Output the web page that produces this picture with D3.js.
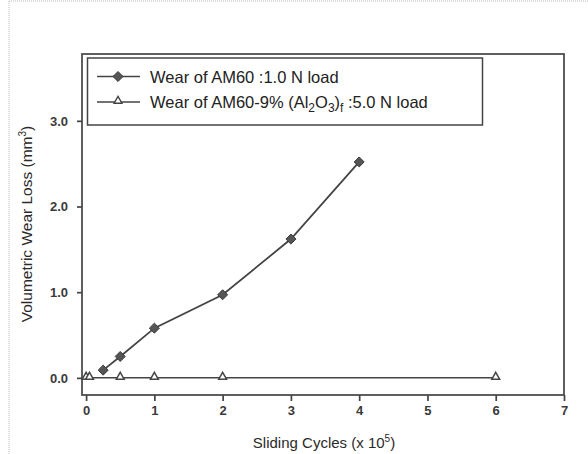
<!DOCTYPE html>
<html><head><meta charset="utf-8">
<script src="https://cdn.jsdelivr.net/npm/d3@7"></script>
<style>html,body{margin:0;padding:0;background:#fff}svg{display:block}</style>
</head><body><div id="chart"></div>
<script>
const cyclesAM60 = [0.25, 0.5, 1, 2, 3, 4];
const wearAM60 = [0.09, 0.25, 0.58, 0.97, 1.62, 2.52];
const cyclesComposite = [0, 0.05, 0.5, 1, 2, 6];
const wearComposite = [0, 0, 0, 0, 0, 0];
const xTicks = [0, 1, 2, 3, 4, 5, 6, 7];
const yTicks = [0, 1, 2, 3];
const seriesNames = ["Wear of AM60 :1.0 N load", "Wear of AM60-9% (Al2O3)f :5.0 N load"];

const W = 588, H = 454;
const svg = d3.select("#chart").append("svg").attr("width", W).attr("height", H);
const ink = "#444";
const font = "Arial, 'Liberation Sans', Helvetica, sans-serif";

// faint scan border
svg.append("line").attr("x1", 9).attr("x2", 9).attr("y1", 1).attr("y2", H)
  .attr("stroke", "#bbb").attr("stroke-dasharray", "1,1");
svg.append("line").attr("x1", 9).attr("x2", W).attr("y1", 1).attr("y2", 1)
  .attr("stroke", "#bbb").attr("stroke-dasharray", "1,1");

const L = 82, R = 564, T = 54, B = 395;
const x = d3.scaleLinear().domain([-0.06, 7]).range([L, R]);
const y = d3.scaleLinear().domain([-0.2, 3.78]).range([B, T]);

// frame
svg.append("rect").attr("x", L).attr("y", T).attr("width", R - L).attr("height", B - T)
  .attr("fill", "none").attr("stroke", ink).attr("stroke-width", 1.7);

// x axis
const xAxis = svg.append("g").attr("transform", `translate(0,${B})`)
  .call(d3.axisBottom(x).tickValues(xTicks).tickFormat(d3.format("d")).tickSize(6).tickPadding(5));
xAxis.select(".domain").remove();
xAxis.selectAll("line").attr("stroke", ink).attr("stroke-width", 1.7);
xAxis.selectAll("text").attr("font-family", font).attr("font-size", 13).attr("font-weight", "bold").attr("fill", "#3a3a3a");

// y axis
const yAxis = svg.append("g").attr("transform", `translate(${L},0)`)
  .call(d3.axisLeft(y).tickValues(yTicks).tickFormat(d3.format(".1f")).tickSize(5).tickPadding(9));
yAxis.select(".domain").remove();
yAxis.selectAll("line").attr("stroke", ink).attr("stroke-width", 1.7);
yAxis.selectAll("text").attr("font-family", font).attr("font-size", 13).attr("font-weight", "bold").attr("fill", "#3a3a3a");

// axis titles
const xt = svg.append("text").attr("x", 324).attr("y", 448).attr("text-anchor", "middle")
  .attr("font-family", font).attr("font-size", 15).attr("fill", "#2a2a2a");
xt.append("tspan").text("Sliding Cycles (x 10");
xt.append("tspan").attr("font-size", 10).attr("dy", -6).text("5");
xt.append("tspan").attr("dy", 6).text(")");

const yt = svg.append("text").attr("transform", "translate(32,224) rotate(-90)").attr("text-anchor", "middle")
  .attr("font-family", font).attr("font-size", 15.5).attr("fill", "#2a2a2a");
yt.append("tspan").text("Volumetric Wear Loss (mm");
yt.append("tspan").attr("font-size", 10).attr("dy", -6).text("3");
yt.append("tspan").attr("dy", 6).text(")");

// series
const line = d3.line().x(d => x(d[0])).y(d => y(d[1]));
const s1 = cyclesAM60.map((c, i) => [c, wearAM60[i]]);
const s2 = cyclesComposite.map((c, i) => [c, wearComposite[i]]);

svg.append("path").datum(s2).attr("d", line).attr("fill", "none").attr("stroke", ink).attr("stroke-width", 1.5);
svg.append("path").datum(s1).attr("d", line).attr("fill", "none").attr("stroke", ink).attr("stroke-width", 1.8);

const diamond = d3.symbol().type(d3.symbolDiamond2).size(64);
const tri = d3.symbol().type(d3.symbolTriangle2).size(44);

svg.selectAll(".tri").data(s2).join("path").attr("class", "tri")
  .attr("d", tri).attr("transform", d => `translate(${x(d[0])},${y(d[1]) - 1})`)
  .attr("fill", "#fff").attr("stroke", ink).attr("stroke-width", 1.5);
svg.selectAll(".dia").data(s1).join("path").attr("class", "dia")
  .attr("d", diamond).attr("transform", d => `translate(${x(d[0])},${y(d[1])})`)
  .attr("fill", "#555").attr("stroke", "#3a3a3a").attr("stroke-width", 1);

// legend
const lg = svg.append("g");
lg.append("rect").attr("x", 87.5).attr("y", 58).attr("width", 395).attr("height", 67)
  .attr("fill", "#fff").attr("stroke", ink).attr("stroke-width", 1.5);
const rows = [76.5, 102];
rows.forEach((ry, i) => {
  lg.append("line").attr("x1", 97).attr("x2", 140).attr("y1", ry).attr("y2", ry)
    .attr("stroke", ink).attr("stroke-width", 1.6);
  if (i === 0) {
    lg.append("path").attr("d", diamond).attr("transform", `translate(118,${ry})`)
      .attr("fill", "#555").attr("stroke", "#3a3a3a");
  } else {
    lg.append("path").attr("d", tri).attr("transform", `translate(118,${ry - 1})`)
      .attr("fill", "#fff").attr("stroke", ink).attr("stroke-width", 1.4);
  }
});
lg.append("text").attr("x", 150).attr("y", rows[0] + 6)
  .attr("font-family", font).attr("font-size", 16.5).attr("fill", "#222").text(seriesNames[0]);
const t2 = lg.append("text").attr("x", 150).attr("y", rows[1] + 6)
  .attr("font-family", font).attr("font-size", 16.5).attr("fill", "#222");
t2.append("tspan").text("Wear of AM60-9% (Al");
t2.append("tspan").attr("font-size", 12).attr("dy", 4).text("2");
t2.append("tspan").attr("dy", -4).text("O");
t2.append("tspan").attr("font-size", 12).attr("dy", 4).text("3");
t2.append("tspan").attr("dy", -4).text(")");
t2.append("tspan").attr("font-size", 12).attr("dy", 4).text("f");
t2.append("tspan").attr("dy", -4).text(" :5.0 N load");
</script>
</body></html>
